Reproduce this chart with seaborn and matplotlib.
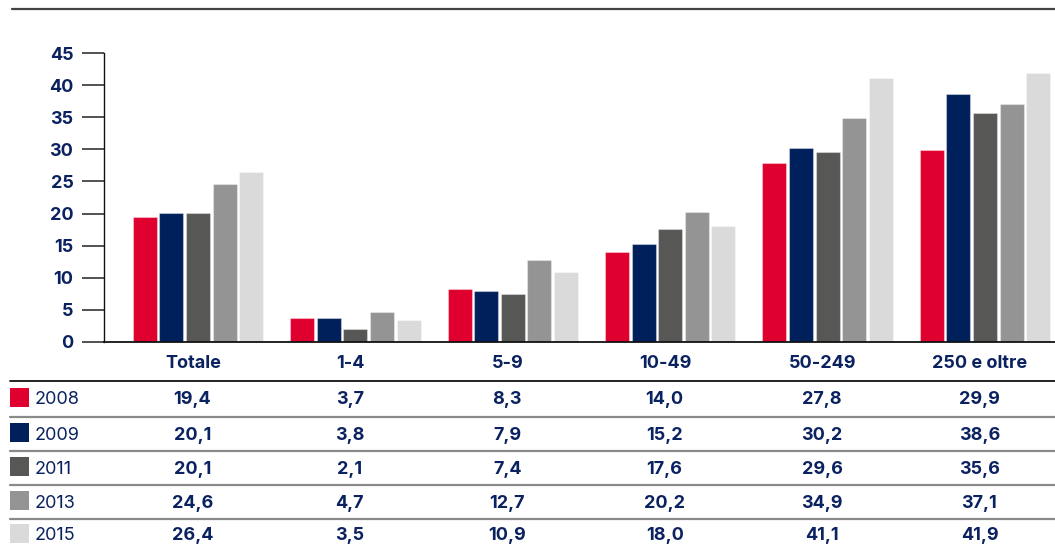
import numpy as np
import pandas as pd
import seaborn as sns
import matplotlib.pyplot as plt
import matplotlib.transforms as mtransforms
from matplotlib.lines import Line2D
from matplotlib.patches import Rectangle

# Quota per classe di addetti, per anno
categories = ["Totale", "1-4", "5-9", "10-49", "50-249", "250 e oltre"]
years = ["2008", "2009", "2011", "2013", "2015"]
v2008 = [19.4, 3.7, 8.3, 14.0, 27.8, 29.9]
v2009 = [20.1, 3.8, 7.9, 15.2, 30.2, 38.6]
v2011 = [20.1, 2.1, 7.4, 17.6, 29.6, 35.6]
v2013 = [24.6, 4.7, 12.7, 20.2, 34.9, 37.1]
v2015 = [26.4, 3.5, 10.9, 18.0, 41.1, 41.9]
yticks = [0, 5, 10, 15, 20, 25, 30, 35, 40, 45]

series = [v2008, v2009, v2011, v2013, v2015]
colors = ["#E0002F", "#00205B", "#575756", "#949494", "#DADADA"]
NAVY = "#0B2260"
FS = 13

df = pd.DataFrame({
    "classe": np.repeat([categories], len(years), axis=0).ravel(),
    "anno": np.repeat(years, len(categories)),
    "valore": np.concatenate(series),
})

sns.set_theme(style="white")
plt.rcParams["font.family"] = ["Inter", "DejaVu Sans"]

W, H = 1055, 544
fig = plt.figure(figsize=(W / 100, H / 100), dpi=100)

def fx(px):
    return px / W

def fy(py):
    return 1 - py / H

ax = fig.add_axes([fx(104), fy(342), 1 - fx(104), fy(53) - fy(342)])

sns.barplot(data=df, x="classe", y="valore", hue="anno", order=categories,
            hue_order=years, palette=colors, saturation=1, width=0.845,
            gap=0.1, edgecolor=(1, 1, 1, 0.35), linewidth=0.8, legend=False,
            ax=ax)

ax.set_xlim(-0.597, 5.445)
ax.set_ylim(0, 45)
ax.set_yticks(yticks)
ax.set_yticklabels([str(t) for t in yticks], fontsize=FS, fontweight="bold",
                   color=NAVY)
ax.tick_params(axis="y", length=16, width=1.2, color="#333333", pad=6,
               left=True)
ax.tick_params(axis="x", length=0, pad=9)
ax.set_xticks(range(len(categories)))
ax.set_xticklabels(categories, fontsize=FS, fontweight="bold", color=NAVY)
for lab in ax.get_xticklabels():
    lab.set_transform(lab.get_transform() +
                      mtransforms.ScaledTranslation(-5 / 100, 0, fig.dpi_scale_trans))
ax.set_xlabel("")
ax.set_ylabel("")
for side in ("top", "right"):
    ax.spines[side].set_visible(False)
ax.spines["left"].set_color("#111111")
ax.spines["left"].set_linewidth(1.0)
ax.spines["bottom"].set_color("#111111")
ax.spines["bottom"].set_linewidth(1.3)

# Rule above the chart
fig.add_artist(Line2D([fx(12), 1], [fy(9), fy(9)], color="#444444", lw=1.6))

# Data table below the chart
fig.add_artist(Line2D([fx(10), 1], [fy(381), fy(381)], color="#111111", lw=1.3))
row_y = [399, 434, 468, 502, 535]
sep_y = [417, 451, 485, 519]
for sy in sep_y:
    fig.add_artist(Line2D([fx(10), 1], [fy(sy), fy(sy)], color="#8a8a8a", lw=1.6))

blend = mtransforms.blended_transform_factory(ax.transData, fig.transFigure)
for yr, vals, col, ry in zip(years, series, colors, row_y):
    fig.add_artist(Rectangle((fx(10), fy(ry + 8)), fx(19), 19 / H,
                             transform=fig.transFigure, facecolor=col,
                             edgecolor="none"))
    fig.text(fx(35), fy(ry + 1), yr, fontsize=FS, color=NAVY,
             ha="left", va="center")
    for i, v in enumerate(vals):
        ax.text(i - 0.035, fy(ry + 1), f"{v:.1f}".replace(".", ","),
                transform=blend, fontsize=FS, fontweight="bold", color=NAVY,
                ha="center", va="center", clip_on=False)

fig.savefig("out.png", dpi=100)
